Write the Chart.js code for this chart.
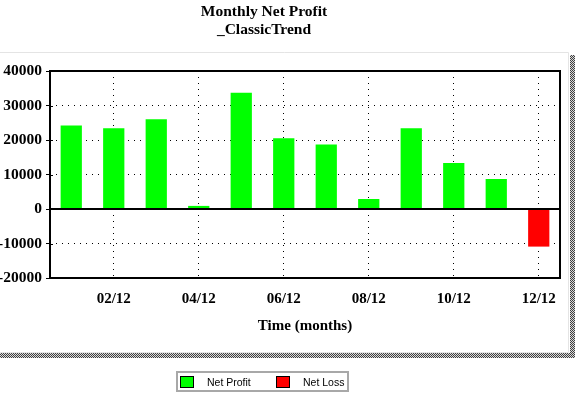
<!DOCTYPE html>
<html>
<head>
<meta charset="utf-8">
<script src="https://cdn.jsdelivr.net/npm/chart.js@4"></script>
<style>html,body{margin:0;padding:0;background:#fff;overflow:hidden}</style>
</head>
<body>
<canvas id="c" width="578" height="399"></canvas>
<script>
// ---- data ----
const months = ['01/12','02/12','03/12','04/12','05/12','06/12','07/12','08/12','09/12','10/12','11/12','12/12'];
const netValues = [24200, 23400, 26000, 900, 33700, 20500, 18700, 2900, 23400, 13300, 8700, -10900];
const yMin = -20000, yMax = 40000, yStep = 5000, yLabelStep = 10000;
const titleLines = ['Monthly Net Profit', '_ClassicTrend'];
const xTitle = 'Time (months)';
const seriesNames = ['Net Profit', 'Net Loss'];
const seriesColors = ['#00ff00', '#ff0000'];

const profitValues = netValues.map(v => v >= 0 ? v : null);
const lossValues = netValues.map(v => v < 0 ? v : null);

const serifBold = {family: '"Liberation Serif", "Times New Roman", serif', size: 15, weight: 'bold'};
const serifBoldY = {family: '"Liberation Serif", "Times New Roman", serif', size: 15.5, weight: 'bold'};

// shadow pattern
const pc = document.createElement('canvas'); pc.width = 2; pc.height = 2;
const pctx = pc.getContext('2d');
pctx.fillStyle = '#d8d8d8'; pctx.fillRect(0,0,2,2);
pctx.fillStyle = '#404040'; pctx.fillRect(0,0,1,1); pctx.fillRect(1,1,1,1);

const panelPlugin = {
  id: 'panel',
  beforeDraw(chart) {
    const ctx = chart.ctx;
    ctx.save();
    ctx.fillStyle = '#fff';
    ctx.fillRect(0, 0, chart.width, chart.height);
    const pat = ctx.createPattern(pc, 'repeat');
    ctx.fillStyle = pat;
    ctx.fillRect(570, 55, 5, 303);
    ctx.fillRect(0, 353, 575, 5);
    ctx.strokeStyle = '#e4e4e4';
    ctx.lineWidth = 1;
    ctx.beginPath();
    ctx.moveTo(0, 52.5); ctx.lineTo(568.5, 52.5); ctx.lineTo(568.5, 352.5); ctx.lineTo(0, 352.5);
    ctx.stroke();
    ctx.restore();
  },
  afterDatasetsDraw(chart) {
    const ctx = chart.ctx;
    const {left, top, right, bottom} = chart.chartArea;
    ctx.save();
    ctx.strokeStyle = '#000';
    ctx.lineWidth = 2;
    ctx.strokeRect(left, top, right - left, bottom - top);
    // minor tick overhang inside the axis
    const ys = chart.scales.y;
    ctx.lineWidth = 1;
    ctx.beginPath();
    ys.ticks.forEach(t => {
      const py = Math.round(ys.getPixelForValue(t.value)) + 0.5;
      ctx.moveTo(left, py); ctx.lineTo(left + 3, py);
    });
    ctx.stroke();
    const y0 = Math.round(ys.getPixelForValue(0));
    ctx.lineWidth = 2;
    ctx.beginPath();
    ctx.moveTo(left, y0); ctx.lineTo(right, y0);
    ctx.stroke();
    ctx.restore();
  },
  afterDraw(chart) {
    const ctx = chart.ctx;
    ctx.save();
    // titles
    ctx.fillStyle = '#000';
    ctx.font = 'bold 15.5px "Liberation Serif", "Times New Roman", serif';
    ctx.textAlign = 'center';
    ctx.textBaseline = 'alphabetic';
    ctx.fillText(titleLines[0], 264, 16);
    ctx.fillText(titleLines[1], 264, 34);
    // legend
    ctx.strokeStyle = '#a8a8a8';
    ctx.lineWidth = 2;
    ctx.strokeRect(177, 372, 171, 19);
    ctx.font = '10.5px "Liberation Sans", Arial, sans-serif';
    ctx.textAlign = 'left';
    chart.data.datasets.forEach((ds, i) => {
      const bx = 180 + i * 96;
      ctx.fillStyle = ds.backgroundColor;
      ctx.fillRect(bx + 0.5, 376.5, 13, 11);
      ctx.strokeStyle = '#000';
      ctx.lineWidth = 1;
      ctx.strokeRect(bx + 0.5, 376.5, 13, 11);
      ctx.fillStyle = '#000';
      ctx.fillText(ds.label, bx + 27, 386);
    });
    ctx.restore();
  }
};

new Chart(document.getElementById('c'), {
  type: 'bar',
  data: {
    labels: months,
    datasets: [
      {label: seriesNames[0], data: profitValues, backgroundColor: seriesColors[0], borderWidth: 0},
      {label: seriesNames[1], data: lossValues, backgroundColor: seriesColors[1], borderWidth: 0}
    ]
  },
  options: {
    responsive: false,
    animation: false,
    devicePixelRatio: 1,
    layout: {padding: {top: 71, left: 0, right: 18, bottom: 59}},
    datasets: {bar: {barPercentage: 0.5, categoryPercentage: 1.0}},
    plugins: {
      legend: {display: false},
      title: {display: false},
      tooltip: {enabled: false}
    },
    scales: {
      x: {
        stacked: true,
        offset: true,
        grid: {
          offset: false,
          drawTicks: false,
          lineWidth: 1,
          color: c => (c.index % 2 === 1 ? '#000' : 'rgba(0,0,0,0)')
        },
        border: {display: false, dash: [1, 5]},
        ticks: {
          autoSkip: false, maxRotation: 0, padding: 12,
          color: '#000', font: serifBold,
          callback: (v, i) => (i % 2 === 1 ? months[i] : '')
        },
        title: {display: true, text: xTitle, color: '#000', font: serifBold, padding: {top: 0, bottom: 5}},
        afterFit: s => { s.height = 62; }
      },
      y: {
        stacked: true,
        min: yMin, max: yMax,
        grid: {
          lineWidth: 1,
          tickLength: 4,
          tickColor: '#000',
          tickWidth: 1,
          color: c => {
            const v = c.tick ? c.tick.value : 0;
            return (v % yLabelStep === 0 && v !== 0 && v > yMin && v < yMax) ? '#000' : 'rgba(0,0,0,0)';
          }
        },
        border: {display: false, dash: [1, 5]},
        ticks: {
          stepSize: yStep, padding: 4, color: '#000', font: serifBoldY,
          callback: v => (v % yLabelStep === 0 ? String(v) : '')
        },
        afterFit: s => { s.width = 50; }
      }
    }
  },
  plugins: [panelPlugin]
});
</script>
</body>
</html>
